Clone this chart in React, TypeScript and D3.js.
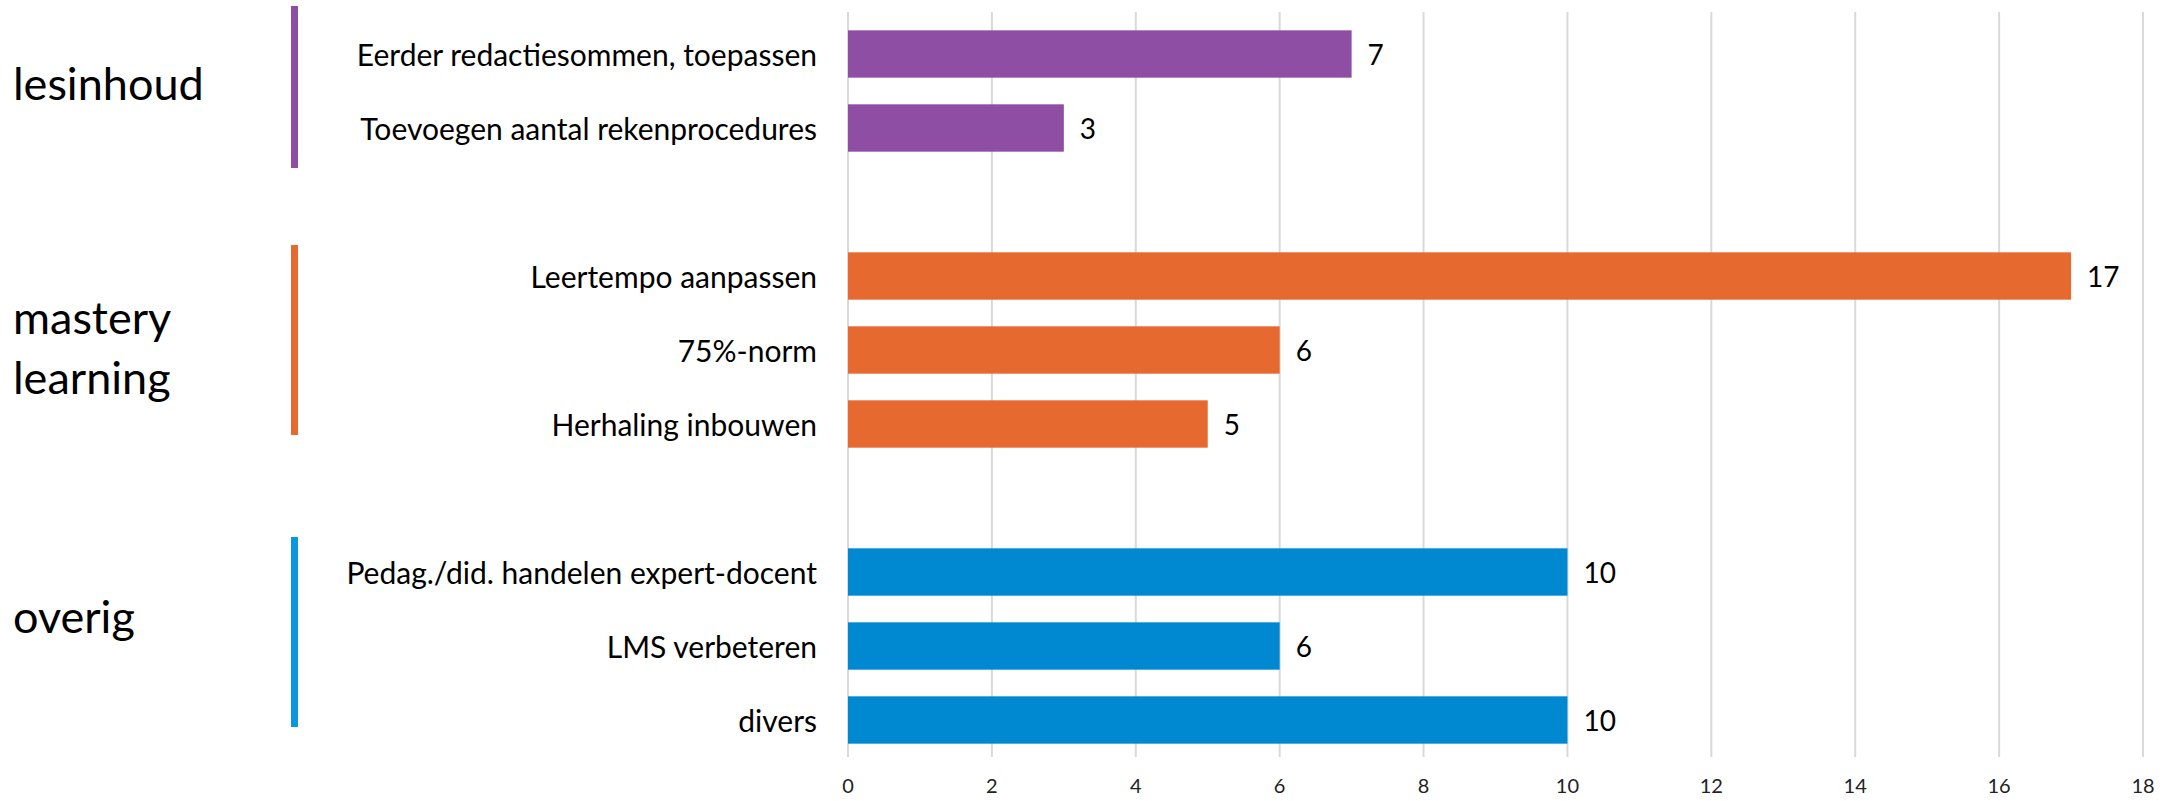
import React from "react";
import * as d3 from "d3";

const groups = ["lesinhoud", "mastery learning", "overig"];
const groupColors = ["#8E4EA3", "#E6692F", "#0089D1"];
const groupLineColors = ["#8E4EA3", "#E6692F", "#0A96E0"];
const categories = [
  "Eerder redactiesommen, toepassen",
  "Toevoegen aantal rekenprocedures",
  "Leertempo aanpassen",
  "75%-norm",
  "Herhaling inbouwen",
  "Pedag./did. handelen expert-docent",
  "LMS verbeteren",
  "divers",
];
const values = [7, 3, 17, 6, 5, 10, 6, 10];
const groupOf = [0, 0, 1, 1, 1, 2, 2, 2];
const xTicks = [0, 2, 4, 6, 8, 10, 12, 14, 16, 18];

const W = 2184;
const H = 801;
const FONT = "Lato, 'Open Sans', 'DejaVu Sans', sans-serif";
// layout nudges for the free-floating group text boxes and marker lines
const LABEL_NUDGE = [0, 5, -22];
const LINE_NUDGE = [4, -2, -6];

export default function App() {
  const slots: string[] = [];
  categories.forEach((c, i) => {
    if (i > 0 && groupOf[i] !== groupOf[i - 1]) slots.push("__gap" + i);
    slots.push(c);
  });

  const x = d3.scaleLinear().domain([0, 18]).range([848, 2143]);
  const y = d3
    .scaleBand<string>()
    .domain(slots)
    .range([17, 757])
    .paddingInner(0.36)
    .paddingOuter(0.18);
  const bw = y.bandwidth();
  const cy = (c: string) => (y(c) as number) + bw / 2;

  const groupInfo = groups.map((g, gi) => {
    const members = categories.filter((_, i) => groupOf[i] === gi);
    const first = cy(members[0]);
    const last = cy(members[members.length - 1]);
    const center = (first + last) / 2 - 8;
    const lc = center + LINE_NUDGE[gi];
    const half = 53 + members.length * 14;
    return { g, gi, center, top: lc - half, bottom: lc + half };
  });

  return (
    <svg
      width={W}
      height={H}
      style={{ position: "absolute", left: 0, top: 0, background: "#fff" }}
      fontFamily={FONT}
    >
      <rect x={0} y={0} width={W} height={H} fill="#fff" />
      {xTicks.map((t) => (
        <line
          key={"g" + t}
          x1={x(t)}
          x2={x(t)}
          y1={12}
          y2={757}
          stroke="#D9D9D9"
          strokeWidth={2}
        />
      ))}
      {xTicks.map((t) => (
        <text
          key={"t" + t}
          x={x(t)}
          y={785}
          textAnchor="middle"
          dominantBaseline="central"
          fontSize={20}
          fill="#222"
        >
          {t}
        </text>
      ))}
      {categories.map((c, i) => (
        <g key={c}>
          <rect
            x={x(0)}
            y={y(c)}
            width={x(values[i]) - x(0)}
            height={bw}
            fill={groupColors[groupOf[i]]}
          />
          <text
            x={x(values[i]) + 16}
            y={cy(c)}
            dominantBaseline="central"
            fontSize={28}
            fill="#000"
          >
            {values[i]}
          </text>
          <text
            x={817}
            y={cy(c)}
            textAnchor="end"
            dominantBaseline="central"
            fontSize={30}
            fill="#000"
          >
            {c}
          </text>
        </g>
      ))}
      {groupInfo.map(({ g, gi, center, top, bottom }) => {
        const words = g.split(" ");
        const lh = 60;
        return (
          <g key={g}>
            <rect
              x={291}
              y={top}
              width={7}
              height={bottom - top}
              fill={groupLineColors[gi]}
            />
            {words.map((w, k) => (
              <text
                key={w}
                x={13}
                y={center + LABEL_NUDGE[gi] + (k - (words.length - 1) / 2) * lh}
                dominantBaseline="central"
                fontSize={45}
                fill="#000"
              >
                {w}
              </text>
            ))}
          </g>
        );
      })}
    </svg>
  );
}
